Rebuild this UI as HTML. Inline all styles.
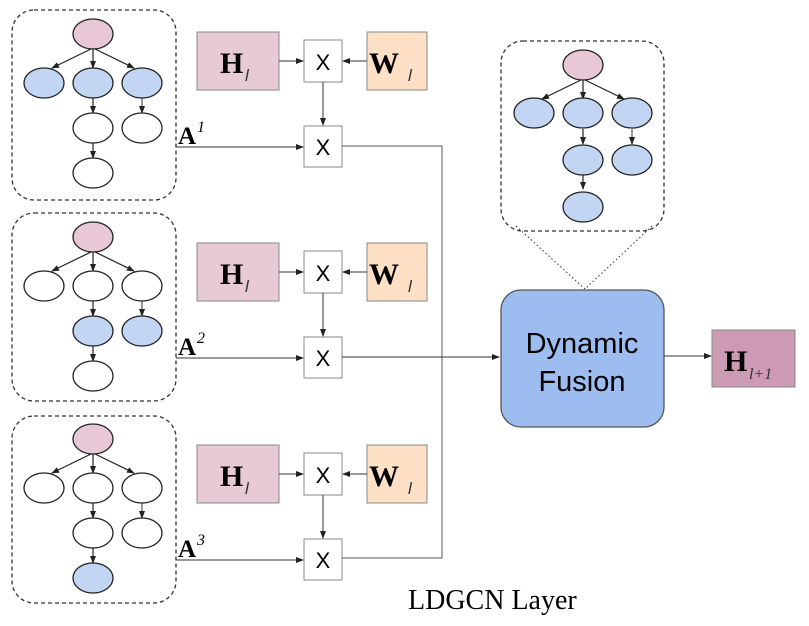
<!DOCTYPE html>
<html><head><meta charset="utf-8"><style>
body{margin:0;background:#fff;}
svg{display:block;}
.b{font-family:"Liberation Serif",serif;font-weight:bold;}
</style></head><body>
<svg width="809" height="626" viewBox="0 0 809 626" xmlns="http://www.w3.org/2000/svg">
<defs>
<marker id="ar" markerWidth="8" markerHeight="8" refX="7" refY="4" orient="auto" markerUnits="userSpaceOnUse">
<path d="M0,1 L8,4 L0,7 z" fill="#222"/></marker>
<g id="tree">
<line x1="93" y1="48" x2="52" y2="68" stroke="#222" stroke-width="1.2" marker-end="url(#ar)"/>
<line x1="93" y1="49" x2="93" y2="68" stroke="#222" stroke-width="1.2" marker-end="url(#ar)"/>
<line x1="93" y1="48" x2="134" y2="68" stroke="#222" stroke-width="1.2" marker-end="url(#ar)"/>
<line x1="93" y1="98" x2="93" y2="113" stroke="#222" stroke-width="1.2" marker-end="url(#ar)"/>
<line x1="142" y1="98" x2="142" y2="113" stroke="#555" stroke-width="1.2" marker-end="url(#ar)"/>
<line x1="93" y1="143" x2="93" y2="158" stroke="#222" stroke-width="1.2" marker-end="url(#ar)"/>
</g>
</defs>

<rect x="12" y="10" width="164" height="190" rx="22" fill="none" stroke="#333" stroke-width="1.3" stroke-dasharray="4,3"/>
<use href="#tree"/>
<g stroke="#222" stroke-width="1.3">
<ellipse cx="93" cy="34" rx="20" ry="15" fill="#e8c8d6"/>
<ellipse cx="44" cy="83" rx="20" ry="15" fill="#c2d5f3"/>
<ellipse cx="93" cy="83" rx="20" ry="15" fill="#c2d5f3"/>
<ellipse cx="142" cy="83" rx="20" ry="15" fill="#c2d5f3"/>
<ellipse cx="93" cy="128" rx="20" ry="15" fill="#fff"/>
<ellipse cx="142" cy="128" rx="20" ry="15" fill="#fff"/>
<ellipse cx="93" cy="173" rx="20" ry="15" fill="#fff"/>
</g>

<g transform="translate(0,203)">
<rect x="12" y="10" width="164" height="188" rx="22" fill="none" stroke="#333" stroke-width="1.3" stroke-dasharray="4,3"/>
<use href="#tree"/>
<g stroke="#222" stroke-width="1.3">
<ellipse cx="93" cy="34" rx="20" ry="15" fill="#e8c8d6"/>
<ellipse cx="44" cy="83" rx="20" ry="15" fill="#fff"/>
<ellipse cx="93" cy="83" rx="20" ry="15" fill="#fff"/>
<ellipse cx="142" cy="83" rx="20" ry="15" fill="#fff"/>
<ellipse cx="93" cy="128" rx="20" ry="15" fill="#c2d5f3"/>
<ellipse cx="142" cy="128" rx="20" ry="15" fill="#c2d5f3"/>
<ellipse cx="93" cy="173" rx="20" ry="15" fill="#fff"/>
</g>
</g>

<g transform="translate(0,405)">
<rect x="12" y="11" width="164" height="187" rx="22" fill="none" stroke="#333" stroke-width="1.3" stroke-dasharray="4,3"/>
<use href="#tree"/>
<g stroke="#222" stroke-width="1.3">
<ellipse cx="93" cy="34" rx="20" ry="15" fill="#e8c8d6"/>
<ellipse cx="44" cy="83" rx="20" ry="15" fill="#fff"/>
<ellipse cx="93" cy="83" rx="20" ry="15" fill="#fff"/>
<ellipse cx="142" cy="83" rx="20" ry="15" fill="#fff"/>
<ellipse cx="93" cy="128" rx="20" ry="15" fill="#fff"/>
<ellipse cx="142" cy="128" rx="20" ry="15" fill="#fff"/>
<ellipse cx="93" cy="173" rx="20" ry="15" fill="#c2d5f3"/>
</g>
</g>

<g id="row1">
<rect x="197" y="32" width="82" height="58" fill="#e8cad7" stroke="#888"/>
<text x="220" y="73" class="b" font-size="30">H</text><text x="245" y="81" font-family="Liberation Sans,sans-serif" font-style="italic" font-size="17" fill="#333">l</text>
<rect x="367" y="32" width="60" height="58" fill="#fde0c5" stroke="#888"/>
<text x="369" y="73" class="b" font-size="30">W</text><text x="408" y="81" font-family="Liberation Sans,sans-serif" font-style="italic" font-size="17" fill="#333">l</text>
<rect x="304" y="40" width="38" height="42" fill="#fff" stroke="#888"/>
<text x="323" y="70" text-anchor="middle" font-family="Liberation Sans,sans-serif" font-size="22">X</text>
<rect x="304" y="126" width="38" height="41" fill="#fff" stroke="#888"/>
<text x="323" y="155" text-anchor="middle" font-family="Liberation Sans,sans-serif" font-size="22">X</text>
<line x1="279" y1="61" x2="303" y2="61" stroke="#333" marker-end="url(#ar)"/>
<line x1="367" y1="61" x2="343" y2="61" stroke="#333" marker-end="url(#ar)"/>
<line x1="323" y1="82" x2="323" y2="125" stroke="#333" marker-end="url(#ar)"/>
<line x1="176" y1="147" x2="303" y2="147" stroke="#333" marker-end="url(#ar)"/>
</g>
<use href="#row1" transform="translate(0,211)"/>
<use href="#row1" transform="translate(0,413)"/>
<text x="178" y="144" class="b" font-size="25">A</text><text x="197" y="132" font-family="Liberation Serif,serif" font-style="italic" font-size="16">1</text>
<text x="178" y="355" class="b" font-size="25">A</text><text x="197" y="343" font-family="Liberation Serif,serif" font-style="italic" font-size="16">2</text>
<text x="178" y="557" class="b" font-size="25">A</text><text x="197" y="545" font-family="Liberation Serif,serif" font-style="italic" font-size="16">3</text>

<polyline points="342,146 442,146 442,558 342,558" fill="none" stroke="#777" stroke-width="1.2"/>
<line x1="342" y1="357" x2="499" y2="357" stroke="#333" marker-end="url(#ar)"/>

<g transform="translate(490,31)">
<rect x="11" y="10" width="163" height="190" rx="22" fill="none" stroke="#333" stroke-width="1.3" stroke-dasharray="4,3"/>
<use href="#tree"/>
<g stroke="#222" stroke-width="1.3">
<ellipse cx="93" cy="34" rx="20" ry="15" fill="#e8c8d6"/>
<ellipse cx="44" cy="82" rx="20" ry="15" fill="#c2d5f3"/>
<ellipse cx="93" cy="82" rx="20" ry="15" fill="#c2d5f3"/>
<ellipse cx="142" cy="82" rx="20" ry="15" fill="#c2d5f3"/>
<ellipse cx="93" cy="129" rx="20" ry="15" fill="#c2d5f3"/>
<ellipse cx="142" cy="129" rx="20" ry="15" fill="#c2d5f3"/>
<ellipse cx="93" cy="176" rx="20" ry="15" fill="#c2d5f3"/>
</g>
</g>
<line x1="516" y1="226" x2="585" y2="289" stroke="#333" stroke-dasharray="1.5,2.5"/>
<line x1="652" y1="226" x2="585" y2="289" stroke="#333" stroke-dasharray="1.5,2.5"/>

<rect x="501" y="290" width="163" height="137" rx="20" fill="#9dbdf0" stroke="#555" stroke-width="1.3"/>
<text x="582" y="353" text-anchor="middle" font-family="Liberation Sans,sans-serif" font-size="29">Dynamic</text>
<text x="582" y="391" text-anchor="middle" font-family="Liberation Sans,sans-serif" font-size="29">Fusion</text>
<line x1="664" y1="356" x2="711" y2="356" stroke="#333" marker-end="url(#ar)"/>
<rect x="712" y="330" width="83" height="57" fill="#cd9ab3" stroke="#888"/>
<text x="724" y="371" class="b" font-size="30">H</text><text x="749" y="379" font-family="Liberation Serif,serif" font-style="italic" font-size="16" fill="#333">l+1</text>

<text x="408" y="609" font-family="Liberation Serif,serif" font-size="28">LDGCN Layer</text>
</svg>
</body></html>
